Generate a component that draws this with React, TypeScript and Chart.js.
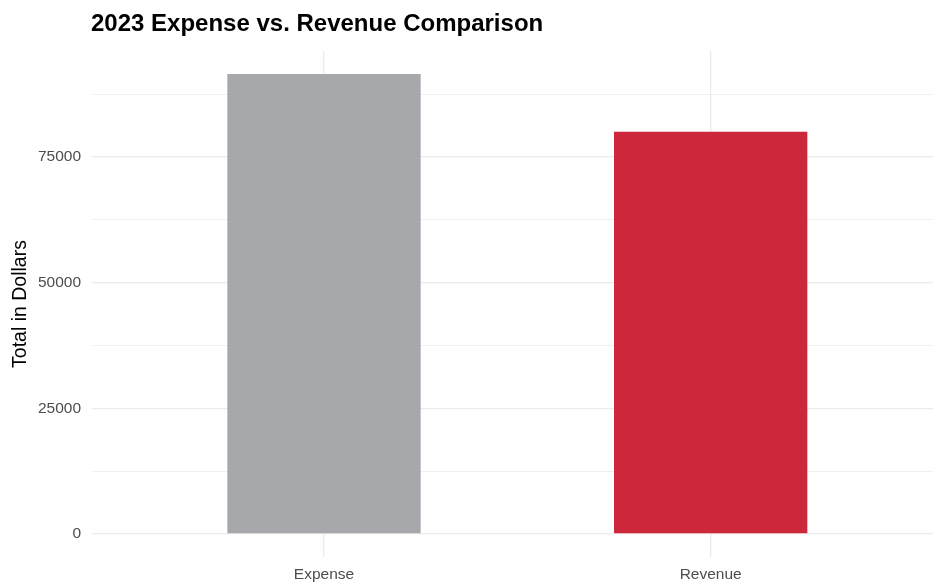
import React, { useEffect, useRef } from "react";
import { Chart, registerables } from "chart.js";

Chart.register(...registerables);

const categories = ["Expense", "Revenue"];
const totals = [91500, 80000];
const barColors = ["#a7a8ac", "#cc273b"];
const yTicks = [0, 12500, 25000, 37500, 50000, 62500, 75000, 87500];
const yLabelled = [0, 25000, 50000, 75000];
const chartTitle = "2023 Expense vs. Revenue Comparison";
const yTitle = "Total in Dollars";

const FONT = "'Liberation Sans', Arial, Helvetica, sans-serif";

const titlePlugin = {
  id: "ggTitle",
  afterDraw(chart: any) {
    const ctx = chart.ctx;
    ctx.save();
    ctx.font = `bold 24px ${FONT}`;
    ctx.fillStyle = "#000000";
    ctx.textBaseline = "alphabetic";
    ctx.textAlign = "left";
    ctx.fillText(chartTitle, 91, 31);
    ctx.restore();
  },
};

export default function App() {
  const ref = useRef<HTMLCanvasElement | null>(null);

  useEffect(() => {
    if (!ref.current) return;
    const chart = new Chart(ref.current, {
      type: "bar",
      data: {
        datasets: [
          {
            data: categories.map((c, i) => ({ x: i + 1, y: totals[i] })),
            backgroundColor: barColors,
            borderWidth: 0,
            barPercentage: 0.5,
            categoryPercentage: 1,
          },
        ],
      },
      plugins: [titlePlugin],
      options: {
        responsive: false,
        animation: false,
        layout: { padding: { top: 51, left: 0, right: 0, bottom: 0 } },
        plugins: {
          legend: { display: false },
          title: { display: false },
          tooltip: { enabled: false },
        },
        scales: {
          x: {
            type: "linear",
            min: 0.4,
            max: 2.575,
            offset: false,
            border: { display: false },
            grid: {
              offset: false,
              color: "#ebebeb",
              lineWidth: 1.3,
              drawTicks: false,
            },
            afterBuildTicks: (scale: any) => {
              scale.ticks = categories.map((_, i) => ({ value: i + 1 }));
            },
            afterFit: (scale: any) => {
              scale.height = 25;
            },
            ticks: {
              padding: 8,
              color: "#4d4d4d",
              font: { family: FONT, size: 15.5 },
              autoSkip: false,
              maxRotation: 0,
              callback: (v: any) => categories[Math.round(Number(v)) - 1] ?? "",
            },
          },
          y: {
            min: -4575,
            max: 96075,
            border: { display: false },
            grid: {
              color: "#ebebeb",
              lineWidth: (ctx: any) =>
                yLabelled.includes(ctx.tick?.value) ? 1.3 : 0.8,
              drawTicks: false,
            },
            afterBuildTicks: (scale: any) => {
              scale.ticks = yTicks.map((v) => ({ value: v }));
            },
            afterFit: (scale: any) => {
              scale.width = 92;
            },
            title: {
              display: true,
              text: yTitle,
              color: "#000000",
              font: { family: FONT, size: 19.5 },
              padding: { top: 9, bottom: 0 },
            },
            ticks: {
              padding: 11,
              color: "#4d4d4d",
              font: { family: FONT, size: 15.5 },
              callback: (v: any) =>
                yLabelled.includes(Number(v)) ? String(v) : "",
            },
          },
        },
      },
    } as any);
    return () => chart.destroy();
  }, []);

  return (
    <div
      style={{
        position: "fixed",
        left: 0,
        top: 0,
        width: 933,
        height: 582,
        background: "#ffffff",
      }}
    >
      <canvas ref={ref} width={933} height={582} />
    </div>
  );
}
